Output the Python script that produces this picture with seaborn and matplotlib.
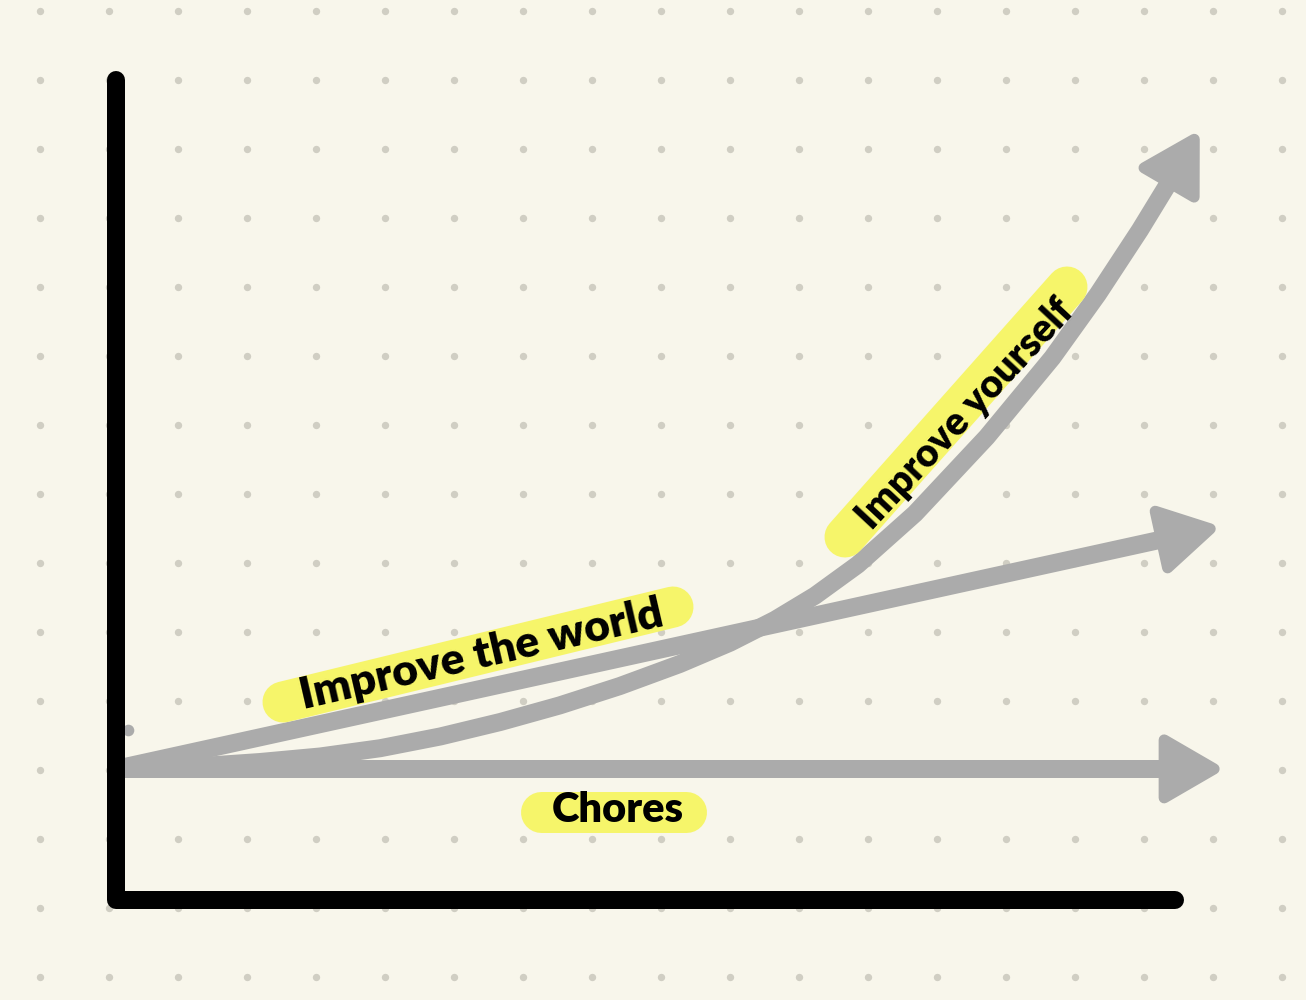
"""
Sketch chart: three ways to spend effort, drawn on dotted paper.
"""

import matplotlib

matplotlib.use("Agg")
import matplotlib.pyplot as plt
import seaborn as sns
import numpy as np
from matplotlib.patches import Polygon

# Units: one unit = one step of the dotted paper (69 px), origin at the axes corner
chores_x = [0.00, 16.06]
chores_y = [1.90, 1.90]

world_x = [0.00, 16.00]
world_y = [1.90, 5.41]

yourself_x = [0.00, 1.22, 2.09, 2.96, 3.83, 4.70, 5.57, 6.43, 7.30, 8.17, 8.90,
              9.55, 10.13, 10.75, 11.58, 12.62, 13.57, 14.23, 14.84, 15.28, 15.70]
yourself_y = [1.90, 1.94, 2.00, 2.08, 2.20, 2.37, 2.58, 2.82, 3.10, 3.42, 3.73,
              4.06, 4.41, 4.86, 5.60, 6.71, 7.86, 8.78, 9.71, 10.43, 11.15]

axis_x = [0.00, 0.00, 15.35]
axis_y = [11.88, 0.00, 0.00]

stray_x = [0.17]
stray_y = [2.46]

label_text = ["Improve the world", "Improve yourself", "Chores"]

# Style configuration
BG = "#F8F6EB"
DOT = "#D0CEC3"
GRAY = "#ABABAB"
YELLOW = "#F6F56A"
UNIT = 69.0          # px per unit
PT = 0.72            # points per px at dpi 100

sns.set_theme(style="white", rc={"figure.facecolor": BG, "axes.facecolor": BG})
plt.rcParams["font.family"] = ["Lato", "DejaVu Sans"]


def px(v):
    return v / UNIT


def draw_arrow(ax, xs, ys):
    """Thick gray shaft with a rounded triangular head at the last point."""
    tip = np.array([xs[-1], ys[-1]])
    prev = np.array([xs[-2], ys[-2]])
    d = (tip - prev) / np.linalg.norm(tip - prev)
    n = np.array([-d[1], d[0]])
    inner_tip = tip - d * px(10)
    base = inner_tip - d * px(50)

    shaft_x = list(xs[:-1]) + [base[0] + d[0] * px(4)]
    shaft_y = list(ys[:-1]) + [base[1] + d[1] * px(4)]
    sns.lineplot(x=shaft_x, y=shaft_y, sort=False, estimator=None, ax=ax,
                 color=GRAY, linewidth=18 * PT, solid_joinstyle="round", zorder=2)

    head = Polygon([inner_tip, base + n * px(29), base - n * px(29)], closed=True,
                   facecolor=GRAY, edgecolor=GRAY, linewidth=11 * PT,
                   joinstyle="round", zorder=2)
    ax.add_patch(head)


def draw_label(ax, text, start, end, center, rotation, size):
    """Yellow highlighter stroke with handwritten-looking text on top."""
    ax.plot([start[0], end[0]], [start[1], end[1]], color=YELLOW,
            linewidth=41 * PT, solid_capstyle="round", zorder=3)
    ax.text(center[0], center[1], text, rotation=rotation, rotation_mode="anchor",
            ha="center", va="center", fontsize=size, fontweight="heavy",
            color="black", zorder=4)


fig = plt.figure(figsize=(13.06, 10), dpi=100)
ax = fig.add_axes([0, 0, 1, 1])
ax.set_xlim(px(-116), px(1306 - 116))
ax.set_ylim(px(900 - 1000), px(900))
ax.axis("off")

# Dotted paper
gx, gy = np.meshgrid(np.arange(19) + px(40.3 - 116), px(900 - 11.3) - np.arange(15))
sns.scatterplot(x=gx.ravel(), y=gy.ravel(), s=28, color=DOT, linewidth=0, ax=ax, zorder=1)

# Arrows
draw_arrow(ax, chores_x, chores_y)
draw_arrow(ax, world_x, world_y)
draw_arrow(ax, yourself_x, yourself_y)
sns.scatterplot(x=stray_x, y=stray_y, s=70, color=GRAY, linewidth=0, ax=ax, zorder=2)

# Highlighted labels
draw_label(ax, label_text[0], (px(283 - 116), px(900 - 702)), (px(673 - 116), px(900 - 607)),
           (px(481 - 116), px(900 - 655)), 13, 32)
draw_label(ax, label_text[1], (px(845 - 116), px(900 - 537)), (px(1067 - 116), px(900 - 287)),
           (px(965 - 116), px(900 - 414)), 47, 28)
draw_label(ax, label_text[2], (px(541 - 116), px(900 - 812)), (px(686 - 116), px(900 - 812)),
           (px(618 - 116), px(900 - 810)), 0, 30)

# Hand-drawn axes
sns.lineplot(x=axis_x, y=axis_y, sort=False, estimator=None, ax=ax, color="black",
             linewidth=18 * PT, solid_capstyle="round", solid_joinstyle="round", zorder=5)

fig.savefig("out.png", dpi=100, facecolor=BG)
